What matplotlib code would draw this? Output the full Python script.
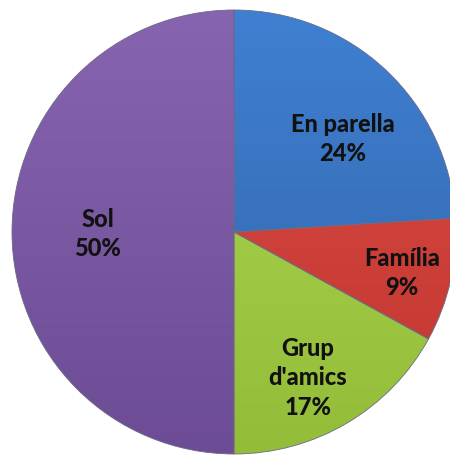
import matplotlib.pyplot as plt
import numpy as np
from matplotlib.colors import LinearSegmentedColormap

# Data
labels = ['En parella', 'Família', "Grup d'amics", 'Sol']
label_lines = ['En parella', 'Família', "Grup\nd'amics", 'Sol']
values = [24, 9, 17, 50]

# colours: (top, bottom) of each slice gradient
colors_top = ['#3f80d2', '#dc4b45', '#aed653', '#8764b0']
colors_bot = ['#3262a6', '#c0362f', '#93bd38', '#6c4c94']

plt.rcParams['font.family'] = ['Lato', 'DejaVu Sans']

fig = plt.figure(figsize=(4.5, 4.56), dpi=100)
ax = fig.add_axes([0, 0, 1, 1])

cx, cy, r = 234, 223, 222

wedges, _ = ax.pie(values, startangle=90, counterclock=False,
                   center=(cx, cy), radius=r,
                   colors=colors_top,
                   wedgeprops=dict(linewidth=0.6, edgecolor='#6a6a88'))

# vertical shading inside each slice
grad = np.linspace(1, 0, 256).reshape(-1, 1)
for w, ct, cb in zip(wedges, colors_top, colors_bot):
    cmap = LinearSegmentedColormap.from_list('g', [cb, ct])
    im = ax.imshow(grad, cmap=cmap, extent=(cx - r, cx + r, cy - r, cy + r),
                   aspect='auto', zorder=1.5)
    im.set_clip_path(w)

for w in wedges:
    w.set_zorder(2)
    w.set_facecolor('none')

# label positions (offset from centre, pixels)
offsets = [(109, 94), (168, -40), (74, -145), (-136, -1)]
for txt, v, (dx, dy) in zip(label_lines, values, offsets):
    ax.text(cx + dx, cy + dy, '%s\n%d%%' % (txt, v), ha='center', va='center',
            fontsize=17, fontweight=900, color='#111111',
            linespacing=1.33, zorder=3)

ax.set_xlim(0, 450)
ax.set_ylim(0, 456)
ax.set_aspect('equal')
ax.axis('off')

fig.savefig('out.png', dpi=100)
